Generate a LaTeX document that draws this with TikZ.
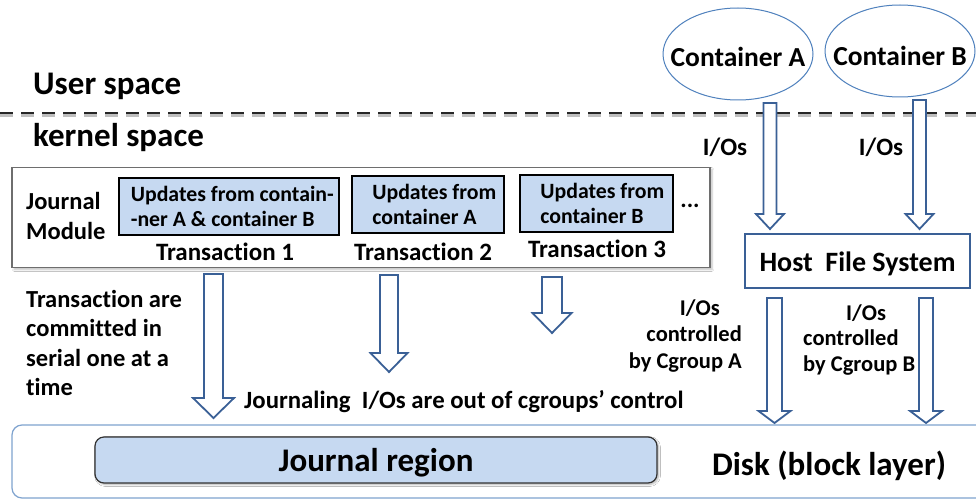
\documentclass[tikz,border=0pt]{standalone}
\usepackage{fontspec}
\setmainfont{Carlito}[Ligatures=NoCommon]
\usetikzlibrary{shapes.geometric,shadows,shadows.blur}
\definecolor{arrowblue}{HTML}{3A6096}
\definecolor{updfill}{HTML}{C6D9F1}
\definecolor{ellblue}{HTML}{4F81BD}
\definecolor{diskblue}{HTML}{7FA3CF}
\definecolor{modgray}{HTML}{6E6E6E}
\tikzset{
  lbl/.style={font=\bfseries, inner sep=0pt},
  barrow/.style={draw=arrowblue, fill=white, line width=1.8pt, line join=miter},
  updbox/.style={draw=black, line width=1.6pt, fill=updfill, minimum height=57pt,
    inner sep=0pt, font=\bfseries\fontsize{21.8}{24.5}\selectfont, align=left},
  container/.style={ellipse, draw=ellblue, line width=1pt, fill=white,
    minimum width=150pt, minimum height=92pt, inner sep=0pt},
  ctext/.style={inner sep=0pt, font=\bfseries\fontsize{27.5}{30}\selectfont},
}
% hollow block arrow: centre x, top y, tip y, half shaft, half head, head length
\newcommand\blockarrow[6]{%
  \draw[barrow] (#1-#4,#2) -- (#1+#4,#2) -- (#1+#4,#3-#6) -- (#1+#5,#3-#6)
    -- (#1,#3) -- (#1-#5,#3-#6) -- (#1-#4,#3-#6) -- cycle;}
\begin{document}
\begin{tikzpicture}[x=1pt,y=-1pt]
\useasboundingbox[fill=white] (0,0) rectangle (976,500);

% user / kernel boundary
\draw[black!25, line width=3pt, dash pattern=on 13pt off 8pt] (0,116) -- (976,116);
\draw[black!85, line width=2.6pt, dash pattern=on 13pt off 8pt] (0,113) -- (976,113);
\node[lbl, anchor=west, font=\bfseries\fontsize{33}{36}\selectfont] (user) at (33,86) {User space};
\node[lbl, anchor=west, font=\bfseries\fontsize{33}{36}\selectfont] (kernel) at (33,138) {kernel space};

% containers
\node[container] (ca) at (738,54) {};
\node[ctext] (catext) at (738,56.5) {Container A};
\node[container] (cb) at (900,51) {};
\node[ctext] (cbtext) at (900,56) {Container B};

% disk and journal region
\draw[diskblue, line width=1.2pt, rounded corners=10pt]
  (990,425) -- (12,425) -- (12,498) -- (990,498);
\node[draw=black!80, line width=1.2pt, fill=updfill, rounded corners=9pt,
  minimum width=562pt, minimum height=46pt, inner sep=0pt,
  blur shadow={shadow blur steps=6, shadow xshift=1.5pt, shadow yshift=-1.5pt, shadow opacity=30}]
  (jr) at (376,460) {};
\node[lbl, font=\bfseries\fontsize{33}{36}\selectfont] (jrtext) at (376,463) {Journal region};
\node[lbl, font=\bfseries\fontsize{33}{36}\selectfont] (disklbl) at (829,466) {Disk (block layer)};

% journal module
\node[draw=modgray, line width=1.2pt, fill=white, minimum width=698pt, minimum height=100pt,
  inner sep=0pt, blur shadow={shadow blur steps=5, shadow xshift=2pt, shadow yshift=-2pt, shadow opacity=25}]
  (jm) at (361,217.5) {};
\node[lbl, align=left, anchor=west, font=\bfseries\fontsize{24.5}{30}\selectfont] (jmlbl) at (26,216) {Journal\\Module};

\node[updbox, minimum width=220pt, anchor=north west] (u1) at (118,177)
  {\hspace{7pt}Updates from contain-\\\hspace{7pt}-ner A \& container B};
\node[updbox, minimum width=152pt, anchor=north west] (u2) at (351,175)
  {\hspace{13pt}Updates from\\\hspace{13pt}container A};
\node[updbox, minimum width=153pt, anchor=north west] (u3) at (519,174)
  {\hspace{12pt}Updates from\\\hspace{12pt}container B};
\node[lbl, font=\bfseries\fontsize{24}{26}\selectfont] (dots) at (690,206) {...};

\node[lbl, font=\bfseries\fontsize{25}{28}\selectfont] (t1) at (225,252) {Transaction 1};
\node[lbl, font=\bfseries\fontsize{25}{28}\selectfont] (t2) at (423,252) {Transaction 2};
\node[lbl, font=\bfseries\fontsize{25}{28}\selectfont] (t3) at (597,249) {Transaction 3};

% host file system
\node[draw=arrowblue, line width=1.4pt, fill=white, minimum width=225pt, minimum height=54pt,
  inner sep=0pt] (hfs) at (857.5,261) {};
\node[lbl, font=\bfseries\fontsize{28}{30}\selectfont] (hfstext) at (857.5,264) {Host\ \ File System};

% I/O paths through the host file system
\blockarrow{770}{103}{229}{6.5}{14}{15}
\blockarrow{919.5}{100}{229}{6.5}{14}{15}
\node[lbl, font=\bfseries\fontsize{25}{28}\selectfont] (ioa) at (725,147) {I/Os};
\node[lbl, font=\bfseries\fontsize{25}{28}\selectfont] (iob) at (881,147) {I/Os};

\blockarrow{774.5}{298}{423}{7.5}{16}{12}
\blockarrow{926}{298}{423}{7}{16}{12}
\node[lbl, align=right, anchor=east, font=\bfseries\fontsize{22.5}{26.5}\selectfont] (cga) at (742,336)
  {I/Os\hspace*{22pt}\\controlled\hspace*{19pt}\\by Cgroup A};
\node[lbl, align=left, anchor=west, font=\bfseries\fontsize{22.5}{25.5}\selectfont] (cgb) at (803,340)
  {\hspace*{43pt}I/Os\\controlled\\by Cgroup B};

% journal commits
\blockarrow{213.5}{274}{418}{9.5}{20.5}{20}
\blockarrow{389}{275}{372}{9}{18.5}{19}
\blockarrow{552}{277}{333}{10}{19.5}{20}
\node[lbl, align=left, anchor=north west, font=\bfseries\fontsize{24.5}{29.5}\selectfont] (serial) at (26,290)
  {Transaction are\\committed in\\serial one at a\\time};
\node[lbl, anchor=west, font=\bfseries\fontsize{24.8}{28}\selectfont] (out) at (244,402)
  {Journaling\ \ I/Os are out of cgroups’ control};
\end{tikzpicture}
\end{document}
